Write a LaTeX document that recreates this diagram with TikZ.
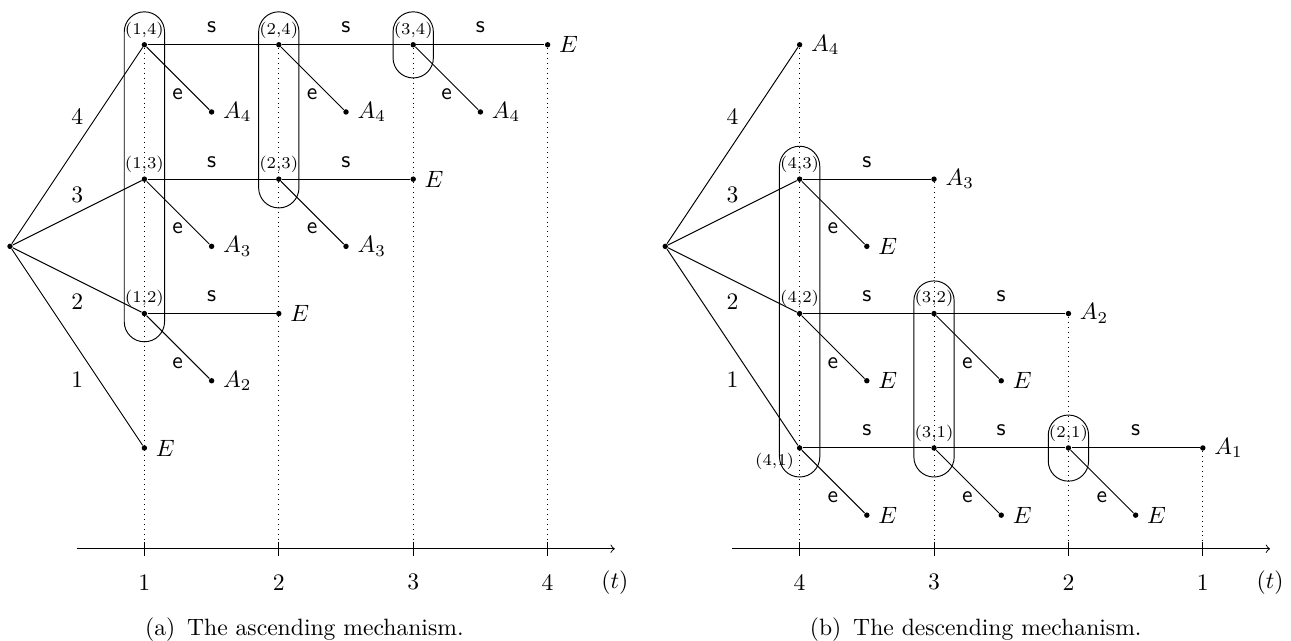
\documentclass[tikz,border=0pt]{standalone}
\usetikzlibrary{calc}
\tikzset{
  dot/.style={circle, fill, inner sep=0pt, minimum size=2.3pt},
  lab/.style={font=\scriptsize, inner sep=1.2pt},
  grp/.style={draw, rounded corners=8.5pt},
  guide/.style={dash pattern=on 0.4pt off 1.7pt},
  slab/.style={above, font=\sffamily, yshift=1.5pt},
  elab/.style={left, font=\sffamily, xshift=-1pt, pos=0.75},
}
\begin{document}
\begin{tikzpicture}[x=2cm,y=2cm]
\useasboundingbox (-0.0744,-0.436) rectangle (9.531,4.333);
% ================= (a) ascending =================
\begin{scope}
  \node[dot] (ra) at (0,2.5) {};
  \node[dot, label={[lab]above:(1,4)}] (a14) at (1,4) {};
  \node[dot, label={[lab]above:(2,4)}] (a24) at (2,4) {};
  \node[dot, label={[lab]above:(3,4)}] (a34) at (3,4) {};
  \node[dot, label={right:$E$}] (a44) at (4,4) {};
  \node[dot, label={right:$A_4$}] (l14) at (1.5,3.5) {};
  \node[dot, label={right:$A_4$}] (l24) at (2.5,3.5) {};
  \node[dot, label={right:$A_4$}] (l34) at (3.5,3.5) {};
  \node[dot, label={[lab]above:(1,3)}] (a13) at (1,3) {};
  \node[dot, label={[lab]above:(2,3)}] (a23) at (2,3) {};
  \node[dot, label={right:$E$}] (a33) at (3,3) {};
  \node[dot, label={right:$A_3$}] (l13) at (1.5,2.5) {};
  \node[dot, label={right:$A_3$}] (l23) at (2.5,2.5) {};
  \node[dot, label={[lab]above:(1,2)}] (a12) at (1,2) {};
  \node[dot, label={right:$E$}] (a22) at (2,2) {};
  \node[dot, label={right:$A_2$}] (l12) at (1.5,1.5) {};
  \node[dot, label={right:$E$}] (a11) at (1,1) {};
  \coordinate (axLa) at (0.5,0.25);
  \coordinate (axRa) at (4.5,0.25);
  \coordinate (ta1) at (1,0.25);
  \coordinate (ta2) at (2,0.25);
  \coordinate (ta3) at (3,0.25);
  \coordinate (ta4) at (4,0.25);
  \draw[guide] (a14) -- (ta1);
  \draw[guide] (a24) -- (ta2);
  \draw[guide] (a34) -- (ta3);
  \draw[guide] (a44) -- (ta4);
  \draw[grp] (0.85,1.79) rectangle (1.15,4.245);
  \draw[grp] (1.85,2.786) rectangle (2.15,4.245);
  \draw[grp] (2.85,3.753) rectangle (3.15,4.245);
  \draw (ra) -- (a14);
  \draw (ra) -- (a13);
  \draw (ra) -- (a12);
  \draw (ra) -- (a11);
  \node (ka4) at (0.5,3.463) {4};
  \node (ka3) at (0.5,2.882) {3};
  \node (ka2) at (0.5,2.086) {2};
  \node (ka1) at (0.5,1.506) {1};
  \draw (a14) -- node[slab] (sa1) {s} (a24);
  \draw (a24) -- node[slab] (sa2) {s} (a34);
  \draw (a34) -- node[slab] (sa3) {s} (a44);
  \draw (a13) -- node[slab] (sa4) {s} (a23);
  \draw (a23) -- node[slab] (sa5) {s} (a33);
  \draw (a12) -- node[slab] (sa6) {s} (a22);
  \draw (a14) -- node[elab] (ea1) {e} (l14);
  \draw (a24) -- node[elab] (ea2) {e} (l24);
  \draw (a34) -- node[elab] (ea3) {e} (l34);
  \draw (a13) -- node[elab] (ea4) {e} (l13);
  \draw (a23) -- node[elab] (ea5) {e} (l23);
  \draw (a12) -- node[elab] (ea6) {e} (l12);
  \draw[->] (axLa) -- (axRa);
  \foreach \i in {1,...,4} {
    \draw ($(ta\i)+(0,-0.052)$) -- ($(ta\i)+(0,0.052)$);
    \node (xa\i) at (\i,0) {\i};
  }
  \node (tta) at (4.5,0) {$(t)$};
  \node (capa) at (2.19,-0.354) {(a)\enspace The ascending mechanism.};
\end{scope}
% ================= (b) descending =================
\begin{scope}[xshift=9.75cm]
  \node[dot] (rb) at (0,2.5) {};
  \node[dot, label={right:$A_4$}] (b44) at (1,4) {};
  \node[dot, label={[lab]above:(4,3)}] (b43) at (1,3) {};
  \node[dot, label={right:$A_3$}] (b33) at (2,3) {};
  \node[dot, label={right:$E$}] (m43) at (1.5,2.5) {};
  \node[dot, label={[lab]above:(4,2)}] (b42) at (1,2) {};
  \node[dot, label={[lab]above:(3,2)}] (b32) at (2,2) {};
  \node[dot, label={right:$A_2$}] (b22) at (3,2) {};
  \node[dot, label={right:$E$}] (m42) at (1.5,1.5) {};
  \node[dot, label={right:$E$}] (m32) at (2.5,1.5) {};
  \node[dot, label={[lab]below left:(4,1)}] (b41) at (1,1) {};
  \node[dot, label={[lab]above:(3,1)}] (b31) at (2,1) {};
  \node[dot, label={[lab]above:(2,1)}] (b21) at (3,1) {};
  \node[dot, label={right:$A_1$}] (b11) at (4,1) {};
  \node[dot, label={right:$E$}] (m41) at (1.5,0.5) {};
  \node[dot, label={right:$E$}] (m31) at (2.5,0.5) {};
  \node[dot, label={right:$E$}] (m21) at (3.5,0.5) {};
  \coordinate (axLb) at (0.5,0.25);
  \coordinate (axRb) at (4.5,0.25);
  \coordinate (tb1) at (1,0.25);
  \coordinate (tb2) at (2,0.25);
  \coordinate (tb3) at (3,0.25);
  \coordinate (tb4) at (4,0.25);
  \draw[guide] (b44) -- (tb1);
  \draw[guide] (b33) -- (tb2);
  \draw[guide] (b22) -- (tb3);
  \draw[guide] (b11) -- (tb4);
  \draw[grp] (0.85,0.784) rectangle (1.15,3.245);
  \draw[grp] (1.85,0.784) rectangle (2.15,2.243);
  \draw[grp] (2.85,0.753) rectangle (3.15,1.245);
  \draw (rb) -- (b44);
  \draw (rb) -- (b43);
  \draw (rb) -- (b42);
  \draw (rb) -- (b41);
  \node (kb4) at (0.5,3.463) {4};
  \node (kb3) at (0.5,2.882) {3};
  \node (kb2) at (0.5,2.086) {2};
  \node (kb1) at (0.5,1.506) {1};
  \draw (b43) -- node[slab] (sb1) {s} (b33);
  \draw (b42) -- node[slab] (sb2) {s} (b32);
  \draw (b32) -- node[slab] (sb3) {s} (b22);
  \draw (b41) -- node[slab] (sb4) {s} (b31);
  \draw (b31) -- node[slab] (sb5) {s} (b21);
  \draw (b21) -- node[slab] (sb6) {s} (b11);
  \draw (b43) -- node[elab] (eb1) {e} (m43);
  \draw (b42) -- node[elab] (eb2) {e} (m42);
  \draw (b32) -- node[elab] (eb3) {e} (m32);
  \draw (b41) -- node[elab] (eb4) {e} (m41);
  \draw (b31) -- node[elab] (eb5) {e} (m31);
  \draw (b21) -- node[elab] (eb6) {e} (m21);
  \draw[->] (axLb) -- (axRb);
  \foreach \i/\v in {1/4,2/3,3/2,4/1} {
    \draw ($(tb\i)+(0,-0.052)$) -- ($(tb\i)+(0,0.052)$);
    \node (xb\i) at (\i,0) {\v};
  }
  \node (ttb) at (4.5,0) {$(t)$};
  \node (capb) at (2.31,-0.354) {(b)\enspace The descending mechanism.};
\end{scope}
\end{tikzpicture}
\end{document}
